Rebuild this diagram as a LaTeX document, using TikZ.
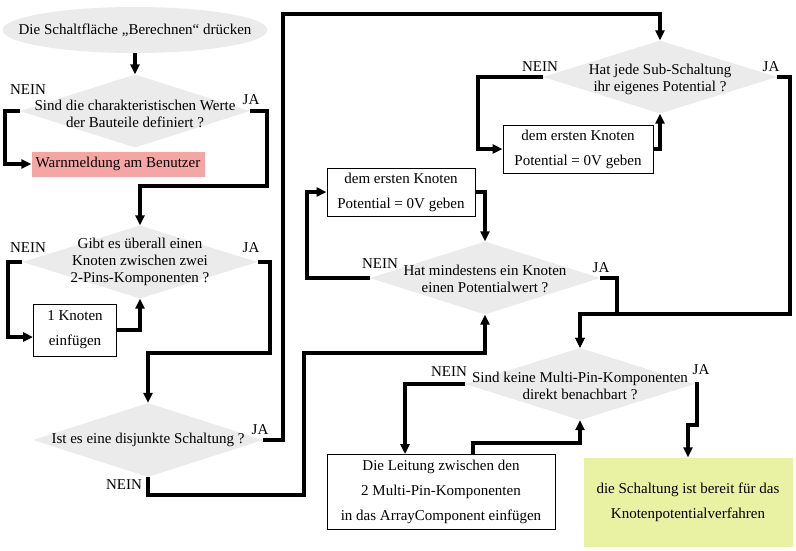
\documentclass[tikz,border=0pt]{standalone}
\usepackage{fontspec}
\setmainfont{Liberation Serif}
\usetikzlibrary{shapes.geometric,arrows.meta}
\definecolor{diagrey}{HTML}{EBEBEB}
\definecolor{warnpink}{HTML}{F6A5A5}
\definecolor{okgreen}{HTML}{E9F1A3}
\begin{document}
\begin{tikzpicture}[x=1pt,y=-1pt,
  every node/.style={font=\fontsize{15}{17}\selectfont},
  dia/.style={diamond,fill=diagrey,draw=none,inner sep=0pt,minimum width=230pt,minimum height=73pt},
  dtext/.style={align=center,inner sep=0pt,font=\fontsize{15}{17}\selectfont},
  box/.style={draw,line width=1pt,align=center,inner sep=0pt,font=\fontsize{15}{25}\selectfont},
  yn/.style={inner sep=0pt},
  conn/.style={line width=3.2pt,-{Triangle[length=10pt,width=9pt]}}]
\useasboundingbox[fill=white] (0,0) rectangle (796,550);

% start
\node[ellipse,fill=diagrey,inner sep=0pt,minimum width=265pt,minimum height=46pt,
  label={[dtext]center:Die Schaltfläche „Berechnen“ drücken}] (start) at (135,30) {};

% decision 1
\node[dia,label={[dtext,yshift=-3pt]center:Sind die charakteristischen Werte\\der Bauteile definiert ?}] (d1) at (135,111) {};
\node[fill=warnpink,inner sep=0pt,minimum width=173pt,minimum height=25pt] (warn) at (118,164) {Warnmeldung am Benutzer};
\node[yn] (d1n) at (28,90) {NEIN};
\node[yn] (d1j) at (251,100) {JA};

% decision 2
\node[dia,minimum width=235pt,label={[dtext]center:Gibt es überall einen\\Knoten zwischen zwei\\2-Pins-Komponenten ?}] (d2) at (140,262) {};
\node[box,minimum width=83pt,minimum height=52pt] (box1) at (75,330) {1 Knoten\\einfügen};
\node[yn] (d2n) at (28,248) {NEIN};
\node[yn] (d2j) at (251,248) {JA};

% decision 3
\node[dia,minimum height=74pt,label={[dtext]center:Ist es eine disjunkte Schaltung ?}] (d3) at (148,440) {};
\node[yn] (d3j) at (260,430) {JA};
\node[yn] (d3n) at (124,485) {NEIN};

% decision 4
\node[dia,minimum width=234pt,label={[dtext,yshift=-2pt]center:Hat jede Sub-Schaltung\\ihr eigenes Potential ?}] (d4) at (660,77) {};
\node[box,minimum width=150pt,minimum height=48pt] (box4) at (578,149) {dem ersten Knoten\\Potential = 0V geben};
\node[yn] (d4n) at (540,67) {NEIN};
\node[yn] (d4j) at (771,67) {JA};

% decision 6
\node[dia,label={[dtext,yshift=-1pt]center:Hat mindestens ein Knoten\\einen Potentialwert ?}] (d6) at (485,278) {};
\node[box,minimum width=148pt,minimum height=48pt] (box2) at (401,192) {dem ersten Knoten\\Potential = 0V geben};
\node[yn] (d6n) at (380,264) {NEIN};
\node[yn] (d6j) at (601,268) {JA};

% decision 5
\node[dia,minimum height=72pt,label={[dtext,yshift=-2pt]center:Sind keine Multi-Pin-Komponenten\\direkt benachbart ?}] (d5) at (580,384) {};
\node[box,minimum width=228pt,minimum height=75pt] (box3) at (441,492) {Die Leitung zwischen den\\2 Multi-Pin-Komponenten\\in das ArrayComponent einfügen};
\node[fill=okgreen,inner sep=0pt,align=center,font=\fontsize{15}{25}\selectfont,minimum width=209pt,minimum height=89pt] (green) at (688,502) {die Schaltung ist bereit für das\\Knotenpotentialverfahren};
\node[yn] (d5n) at (449,372) {NEIN};
\node[yn] (d5j) at (701,370) {JA};

% connectors
\draw[conn] (start.south) -- (d1.north);
\draw[conn] (d1.west) -| (5,164) -- (warn.west);
\draw[conn] (d1.east) -| (267,186) -| (d2.north);
\draw[conn] (d2.west) -| (8,337) -- (box1.west |- 0,337);
\draw[conn] (box1.east) -| (d2.south);
\draw[conn] (d2.east) -| (270,353) -| (d3.north);
\draw[conn] (d3.east) -| (283,14) -| (d4.north);
\draw[conn] (d3.south) |- (304,495) -- (304,353) -| (d6.south);
\draw[conn] (d4.west) -| (478,149) -- (box4.west);
\draw[conn] (box4.east) -| (d4.south);
\draw[conn] (d4.east) -| (790,314) -| (d5.north);
\draw[conn] (d6.east) -| (617,314) -| (d5.north);
\draw[conn] (d6.west) -| (307,192) -- (box2.west);
\draw[conn] (box2.east) -| (d6.north);
\draw[conn] (d5.west) -| (405,0 |- box3.north);
\draw[conn] (473,0 |- box3.north) -- (473,443) -| (d5.south);
\draw[conn] (d5.east) -| (697,425) -| (green.north);
\end{tikzpicture}
\end{document}
